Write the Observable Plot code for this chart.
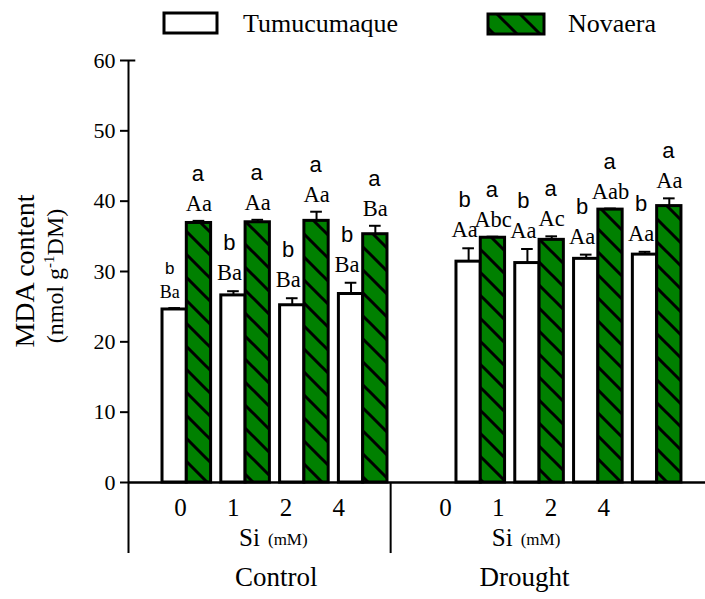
<!DOCTYPE html>
<html><head><meta charset="utf-8">
<script src="https://cdn.jsdelivr.net/npm/d3@7"></script>
<script src="https://cdn.jsdelivr.net/npm/@observablehq/plot@0.6"></script>
<style>body{margin:0;background:#fff;} #chart{width:705px;}</style>
</head><body><div id="chart"></div>
<script>
const conditions = ["Control", "Drought"];
const doses = ["0", "1", "2", "4"];
const cultivars = ["Tumucumaque", "Novaera"];
// order: Control 0,1,2,4 then Drought 0,1,2,4
const tumuMean = [24.6, 26.6, 25.2, 26.8, 31.4, 31.2, 31.8, 32.4];
const tumuErr  = [0.2, 0.6, 1.0, 1.6, 1.9, 2.0, 0.6, 0.4];
const novaMean = [36.9, 37.0, 37.2, 35.3, 34.8, 34.5, 38.8, 39.3];
const novaErr  = [0.3, 0.35, 1.3, 1.2, 0.15, 0.5, 0.15, 1.1];
const tumuUpper = ["b", "b", "b", "b", "b", "b", "b", "b"];
const tumuLower = ["Ba", "Ba", "Ba", "Ba", "Aa", "Aa", "Aa", "Aa"];
const novaUpper = ["a", "a", "a", "a", "a", "a", "a", "a"];
const novaLower = ["Aa", "Aa", "Aa", "Ba", "Abc", "Ac", "Aab", "Aa"];
const yTicks = [0, 10, 20, 30, 40, 50, 60];
const yTitle = "MDA content";
const xUnit = "Si";
const xUnitSmall = "(mM)";

// layout (in x-scale units of one bar width)
const GROUP = 12.1, PAIR = 2.42;
const XMIN = -1.4, XMAX = 22.35;

const rows = [];
conditions.forEach((cond, g) => doses.forEach((dose, i) => {
  const k = g * 4 + i;
  [[tumuMean, tumuErr, tumuUpper, tumuLower], [novaMean, novaErr, novaUpper, novaLower]].forEach((s, c) => {
    const x1 = g * GROUP + i * PAIR + c;
    rows.push({cond, dose, cultivar: cultivars[c], c, g, i, x1, x2: x1 + 1, xc: x1 + 0.5,
      mean: s[0][k], err: s[1][k], top: s[0][k] + s[1][k], upper: s[2][k], lower: s[3][k],
      small: (g === 0 && i === 0 && c === 0)});
  });
}));
const tickRows = [];
conditions.forEach((cond, g) => doses.forEach((dose, i) => tickRows.push({label: dose, x: 0.74 + g * 10.91 + i * 2.17})));
const groupRows = conditions.map((cond, g) => ({label: cond, x: 4.68 + g * 10.22, xs: 4.3 + g * 10.4}));

const legend = `<svg width="705" height="45" style="display:block">
<defs><pattern id="hatch" patternUnits="userSpaceOnUse" width="23" height="23">
<rect width="23" height="23" fill="#008000"/>
<path d="M0,0L23,23M-2,21L2,25M21,-2L25,2" stroke="black" stroke-width="3"/>
</pattern></defs>
<rect x="164" y="13" width="53" height="20" fill="white" stroke="black" stroke-width="3"/>
<text x="243" y="32" font-family="Liberation Serif" font-size="26">${cultivars[0]}</text>
<rect x="488" y="14" width="56" height="20" fill="url(#hatch)" stroke="black" stroke-width="3"/>
<text x="568" y="32" font-family="Liberation Serif" font-size="26">${cultivars[1]}</text>
</svg>`;

const tumu = rows.filter(d => d.c === 0), nova = rows.filter(d => d.c === 1);
const tumuBig = tumu.filter(d => !d.small), sm = rows.filter(d => d.small);

const plot = Plot.plot({
  width: 705, height: 554,
  marginLeft: 128, marginRight: 0, marginTop: 15, marginBottom: 117,
  style: {fontFamily: "Liberation Serif", fontSize: "22px", color: "black", overflow: "visible", background: "white"},
  x: {domain: [XMIN, XMAX], axis: null},
  y: {domain: [0, 60], axis: null},
  marks: [
    Plot.ruleX(rows, {x: "xc", y1: "mean", y2: "top", stroke: "black", strokeWidth: 2}),
    Plot.ruleY(rows, {y: "top", x1: d => d.xc - 0.24, x2: d => d.xc + 0.24, stroke: "black", strokeWidth: 2}),
    Plot.rectY(tumu, {x1: "x1", x2: "x2", y1: 0, y2: "mean", fill: "white", stroke: "black", strokeWidth: 3}),
    Plot.rectY(nova, {x1: "x1", x2: "x2", y1: 0, y2: "mean", fill: "url(#hatch)", stroke: "black", strokeWidth: 3}),
    Plot.axisY({ticks: yTicks, tickSize: 8, tickPadding: 5, fontSize: 22, strokeWidth: 2, label: null}),
    Plot.ruleX([XMIN], {y1: -10.1, y2: 60, stroke: "black", strokeWidth: 2}),
    Plot.ruleX([9.39], {y1: -10.1, y2: 0, stroke: "black", strokeWidth: 2}),
    Plot.ruleY([0], {x1: XMIN, x2: XMAX, stroke: "black", strokeWidth: 2.5}),
    Plot.ruleY([60], {x1: XMIN, x2: XMIN + 0.3, stroke: "black", strokeWidth: 2}),
    Plot.text(tumuBig, {x: "xc", y: "top", text: "lower", dx: -4, dy: -11, lineAnchor: "bottom", fontSize: 22.5, fontFamily: "Liberation Serif"}),
    Plot.text(tumuBig, {x: "xc", y: "top", text: "upper", dx: -4, dy: -41, lineAnchor: "bottom", fontSize: 22, fontFamily: "Liberation Sans"}),
    Plot.text(nova, {x: "xc", y: "top", text: "lower", dx: 0, dy: -10, lineAnchor: "bottom", fontSize: 22.5, fontFamily: "Liberation Serif"}),
    Plot.text(nova, {x: "xc", y: "top", text: "upper", dx: -1, dy: -40, lineAnchor: "bottom", fontSize: 22, fontFamily: "Liberation Sans"}),
    Plot.text(sm, {x: "xc", y: "top", text: "lower", dx: -5, dy: -10, lineAnchor: "bottom", fontSize: 18, fontFamily: "Liberation Serif"}),
    Plot.text(sm, {x: "xc", y: "top", text: "upper", dx: -5, dy: -34, lineAnchor: "bottom", fontSize: 17, fontFamily: "Liberation Sans"}),
    Plot.text(tickRows, {x: "x", y: 0, text: "label", dy: 33, lineAnchor: "bottom", fontSize: 25}),
    Plot.text(groupRows, {x: "xs", y: 0, text: () => xUnit, dy: 63, dx: -7, textAnchor: "end", lineAnchor: "bottom", fontSize: 25}),
    Plot.text(groupRows, {x: "xs", y: 0, text: () => xUnitSmall, dy: 62, dx: 1, textAnchor: "start", lineAnchor: "bottom", fontSize: 17}),
    Plot.text(groupRows, {x: "x", y: 0, text: "label", dy: 103, lineAnchor: "bottom", fontSize: 27})
  ]
});

const chart = document.getElementById("chart");
chart.innerHTML = legend;
chart.appendChild(plot);
const svg = d3.select(plot);
svg.append("text").attr("transform", "translate(34,226) rotate(-90)")
  .attr("text-anchor", "middle").attr("font-family", "Liberation Serif").attr("font-size", 28).text(yTitle);
const t2 = svg.append("text").attr("transform", "translate(63,231) rotate(-90)")
  .attr("text-anchor", "middle").attr("font-family", "Liberation Serif").attr("font-size", 24);
t2.append("tspan").text("(nmol g");
t2.append("tspan").attr("dy", -9).attr("font-size", 15).text("-1");
t2.append("tspan").attr("dy", 9).text("DM)");
</script></body></html>
